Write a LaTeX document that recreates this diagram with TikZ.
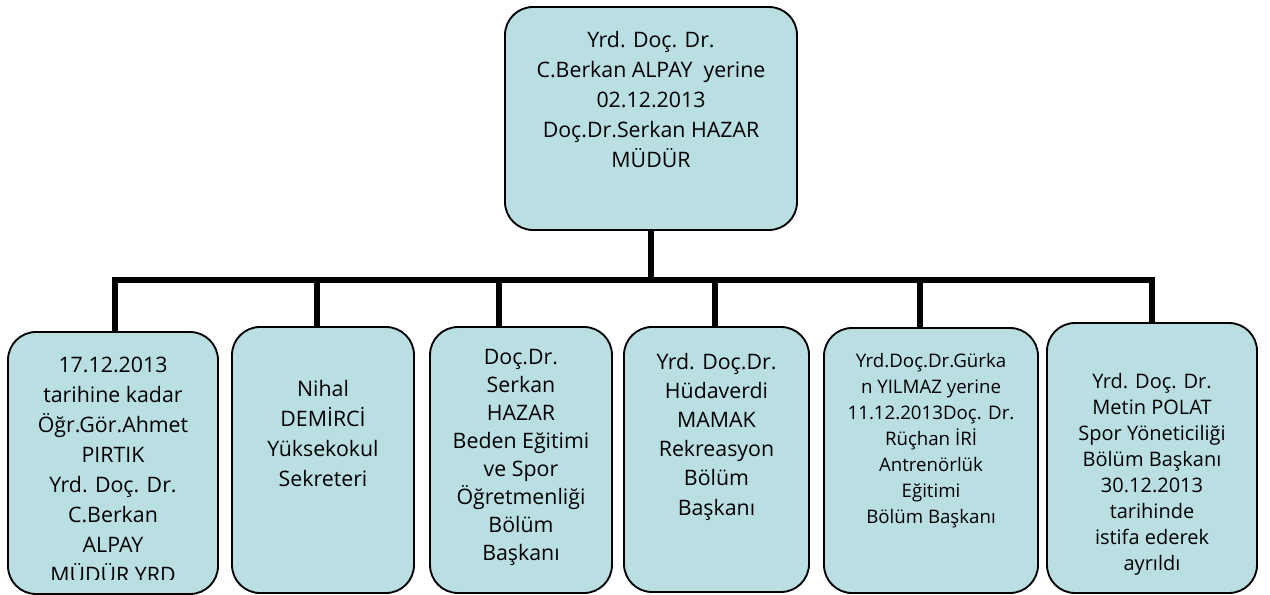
\documentclass[tikz,border=0pt]{standalone}
\usepackage{fontspec}
\setmainfont{Open Sans}
\definecolor{boxfill}{HTML}{B9DFE3}
\begin{document}
\begin{tikzpicture}[x=0.75pt,y=-0.75pt,
  orgbox/.style={draw=black, line width=1.4pt, fill=boxfill, rounded corners=21pt, inner sep=0pt},
  orgtext/.style={align=center, anchor=base, inner sep=0pt},
  conn/.style={line width=4.2pt, line join=miter}]
\useasboundingbox (0,0) rectangle (1270,595);
% boxes
\node[orgbox, minimum width=219pt, minimum height=167.25pt] (top) at (651,118.5) {};
\node[orgbox, minimum width=157.5pt, minimum height=196.5pt] (c1) at (113,463) {};
\node[orgbox, minimum width=136.5pt, minimum height=199.5pt] (c2) at (323,460) {};
\node[orgbox, minimum width=136.5pt, minimum height=199.5pt] (c3) at (521,460) {};
\node[orgbox, minimum width=138.75pt, minimum height=198.75pt] (c4) at (716.5,459.5) {};
\node[orgbox, minimum width=160.5pt, minimum height=198.75pt] (c5) at (931,460.5) {};
\node[orgbox, minimum width=157.5pt, minimum height=202.5pt] (c6) at (1152,458) {};
% texts (anchor = baseline of the last line)
\node[orgtext, font=\fontsize{16}{22.5}\selectfont] (t0) at (651,168)
  {Yrd. Doç. Dr.\\C.Berkan ALPAY\ \ yerine\\02.12.2013\\Doç.Dr.Serkan HAZAR\\MÜDÜR};
\begin{scope}
\clip (0,0) rectangle (1270,579);
\node[orgtext, font=\fontsize{16}{22.5}\selectfont] (t1) at (113,582)
  {17.12.2013\\tarihine kadar\\Öğr.Gör.Ahmet\\PIRTIK\\Yrd. Doç. Dr.\\C.Berkan\\ALPAY\\MÜDÜR YRD};
\end{scope}
\node[orgtext, font=\fontsize{16}{22.5}\selectfont] (t2) at (323,486)
  {Nihal\\DEMİRCİ\\Yüksekokul\\Sekreteri};
\node[orgtext, font=\fontsize{16}{21}\selectfont] (t3) at (521,560)
  {Doç.Dr.\\Serkan\\HAZAR\\Beden Eğitimi\\ve Spor\\Öğretmenliği\\Bölüm\\Başkanı};
\node[orgtext, font=\fontsize{16}{21.9}\selectfont] (t4) at (716.5,515)
  {Yrd. Doç.Dr.\\Hüdaverdi\\MAMAK\\Rekreasyon\\Bölüm\\Başkanı};
\node[orgtext, font=\fontsize{14}{19.5}\selectfont] (t5) at (931,523)
  {Yrd.Doç.Dr.Gürka\\n YILMAZ yerine\\11.12.2013Doç. Dr.\\Rüçhan İRİ\\Antrenörlük\\Eğitimi\\Bölüm Başkanı};
\node[orgtext, font=\fontsize{15}{19.5}\selectfont] (t6) at (1152,570)
  {Yrd. Doç. Dr.\\Metin POLAT\\Spor Yöneticiliği\\Bölüm Başkanı\\30.12.2013\\tarihinde\\istifa ederek\\ayrıldı};
% connectors
\coordinate (b1) at (115,280);
\coordinate (b2) at (317,280);
\coordinate (b3) at (499,280);
\coordinate (b4) at (715,280);
\coordinate (b5) at (920,280);
\coordinate (b6) at (1152,280);
\draw[conn] (top.south) -- (top.south |- b1);
\draw[conn] (b1 |- c1.north) -- (b1) -- (b6) -- (b6 |- c6.north);
\draw[conn] (b2) -- (b2 |- c2.north);
\draw[conn] (b3) -- (b3 |- c3.north);
\draw[conn] (b4) -- (b4 |- c4.north);
\draw[conn] (b5) -- (b5 |- c5.north);
\end{tikzpicture}
\end{document}
